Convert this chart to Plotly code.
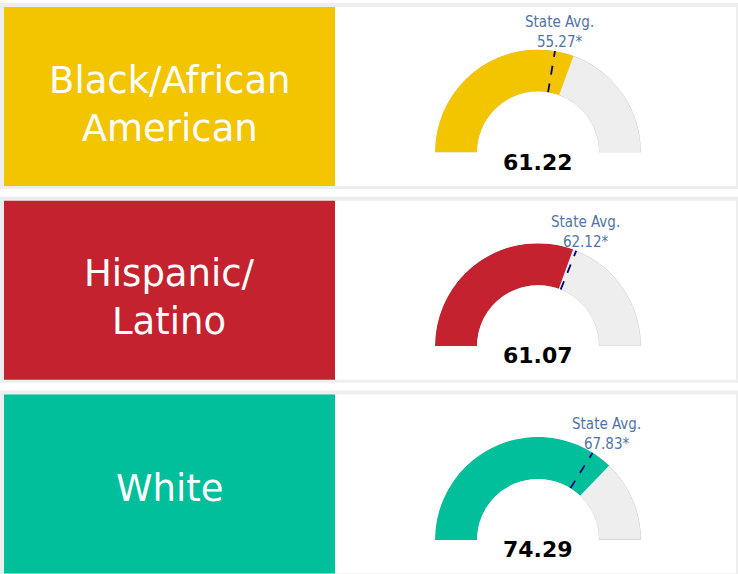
import math
import plotly.graph_objects as go

# ---- data ----
groups = ["Black/African<br>American", "Hispanic/<br>Latino", "White"]
values = [61.22, 61.07, 74.29]
state_avg = [55.27, 62.12, 67.83]
gauge_max = 100
colors = ["#F2C500", "#C4222E", "#00BF9A"]

W, H = 738, 574
def px(x):
    return x / W
def py(y):
    return 1 - y / H

CX, R, HOLE = 538, 103, 0.592
PANEL_TOP = [7, 200.7, 394.4]
PANEL_H = 179
LABEL_MID = [105, 297.8, 488]

fig = go.Figure()
shapes, annotations = [], []
layout_polars = {}

for i, (g, v, a, c) in enumerate(zip(groups, values, state_avg, colors)):
    top = PANEL_TOP[i]
    bot = top + PANEL_H
    cy = top + 145.5
    # panel frame
    shapes.append(dict(type="rect", xref="paper", yref="paper", layer="below",
                       x0=px(0), x1=px(W), y0=py(bot + 3), y1=py(top - 4),
                       fillcolor="#eeeeee", line_width=0))
    shapes.append(dict(type="rect", xref="paper", yref="paper", layer="below",
                       x0=px(335), x1=px(736), y0=py(bot), y1=py(top),
                       fillcolor="#ffffff", line_width=0))
    shapes.append(dict(type="rect", xref="paper", yref="paper", layer="below",
                       x0=px(4), x1=px(335), y0=py(bot), y1=py(top),
                       fillcolor=c, line_width=0))
    annotations.append(dict(xref="paper", yref="paper", x=px(169.5), y=py(LABEL_MID[i]),
                            xanchor="center", yanchor="middle", showarrow=False,
                            text=g, font=dict(family="DejaVu Sans", size=37, color="#ffffff")))

    pid = "polar" if i == 0 else f"polar{i+1}"
    sub = pid
    k = 180 / gauge_max
    # background arc
    fig.add_trace(go.Barpolar(r=[1], theta=[gauge_max * k / 2], width=[gauge_max * k],
                              base=0, subplot=sub, showlegend=False, hoverinfo="skip",
                              marker=dict(color="#eeeeee", line=dict(color="#cccccc", width=1))))
    # value arc
    fig.add_trace(go.Barpolar(r=[1], theta=[v * k / 2], width=[v * k],
                              base=0, subplot=sub, showlegend=False, hoverinfo="skip",
                              marker=dict(color=c, line=dict(color=c, width=0))))
    # state average line
    fig.add_trace(go.Scatterpolar(r=[0, 1], theta=[a * k, a * k], mode="lines",
                                  subplot=sub, showlegend=False, hoverinfo="skip",
                                  line=dict(color="#000080", width=1.8, dash="dash")))

    layout_polars[pid] = dict(
        domain=dict(x=[px(CX - R), px(CX + R)], y=[py(cy), py(cy - R)]),
        sector=[0, 180], hole=HOLE, bgcolor="rgba(0,0,0,0)",
        radialaxis=dict(visible=False, range=[0, 1]),
        angularaxis=dict(direction="clockwise", rotation=180, showgrid=False,
                         showline=False, showticklabels=False, ticks="inside",
                         ticklen=15, tickwidth=2, tickcolor="#ccd6eb",
                         tickmode="array", tickvals=[0, 180]),
    )

    # value text
    annotations.append(dict(xref="paper", yref="paper", x=px(CX), y=py(cy + 9.5),
                            xanchor="center", yanchor="middle", showarrow=False,
                            text=f"{v:.2f}",
                            font=dict(family="DejaVu Sans", size=22, color="#000000", weight="bold")))
    # state average label
    ang = math.radians(180 - a * k)
    lx = CX + (R + 26) * math.cos(ang)
    ly = cy - R * math.sin(ang)
    annotations.append(dict(xref="paper", yref="paper", x=px(lx), y=py(ly - 19),
                            xanchor="center", yanchor="middle", showarrow=False,
                            text=f"State Avg.<br>{a:.2f}*",
                            font=dict(family="DejaVu Sans Condensed", size=15, color="#4f73a8")))

fig.update_layout(width=W, height=H, margin=dict(l=0, r=0, t=0, b=0),
                  paper_bgcolor="#ffffff", plot_bgcolor="#ffffff",
                  shapes=shapes, annotations=annotations, **layout_polars)

fig.write_html("out.html", config={"displayModeBar": False},
               post_script="document.body.style.margin='0';")
